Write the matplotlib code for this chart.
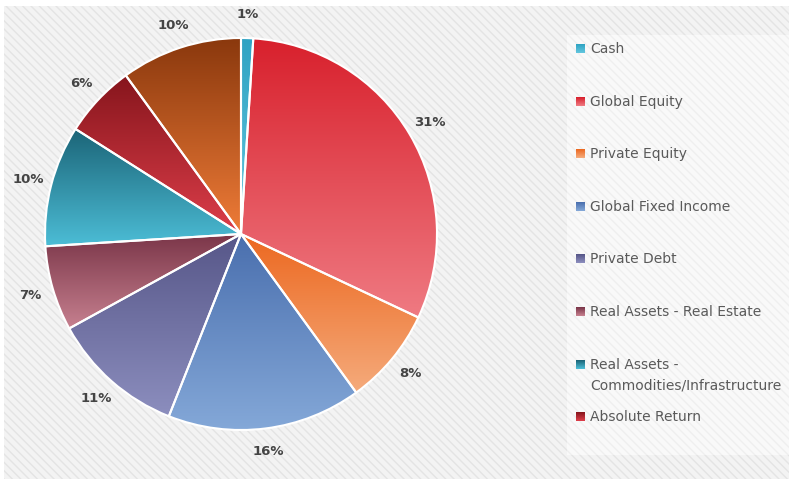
import numpy as np
import matplotlib
matplotlib.use("Agg")
import matplotlib.pyplot as plt
from matplotlib.colors import to_rgb
from matplotlib.patches import Rectangle

# asset allocation (percent)
categories = ["Cash", "Global Equity", "Private Equity", "Global Fixed Income",
              "Private Debt", "Real Assets - Real Estate",
              "Real Assets -\nCommodities/Infrastructure", "Absolute Return", "Other"]
values = [1, 31, 8, 16, 11, 7, 10, 6, 10]
pct_labels = ["1%", "31%", "8%", "16%", "11%", "7%", "10%", "6%", "10%"]
# gradient (top, bottom) for each slice
top_colors = ["#2fa3c3", "#d8202c", "#ec6820", "#4a6fae", "#565688",
              "#7a3548", "#1b6477", "#86151c", "#8a380d"]
bottom_colors = ["#62c6de", "#ef7a82", "#f5ab7c", "#84a8d8", "#8c8ebe",
                 "#c6808f", "#4cbdd6", "#dd3e4a", "#ef7c38"]
legend_count = 8  # last entry doesn't fit in the legend box

W, H = 789, 479
fig = plt.figure(figsize=(W / 100, H / 100), dpi=100)
fig.patch.set_facecolor("white")
ax = fig.add_axes([0, 0, 1, 1])


def gradient(c_top, c_bot, n=256):
    t = np.linspace(0, 1, n)[:, None]
    a = np.array(to_rgb(c_top))
    b = np.array(to_rgb(c_bot))
    return (a * (1 - t) + b * t)[:, None, :]


# striped background
ax.add_patch(Rectangle((4, 0), W - 4, H - 6, facecolor="#f3f3f3",
                       edgecolor="#e4e4e4", hatch="\\\\\\\\", lw=0, zorder=0))

# pie
cx, cy, r = 241, H - 234, 196
wedges, texts = ax.pie(values, labels=pct_labels, startangle=90, counterclock=False,
                       center=(cx, cy), radius=r, labeldistance=1.12,
                       wedgeprops=dict(edgecolor="white", linewidth=1.5),
                       textprops=dict(fontsize=9.5, fontweight="bold", color="#444444"))
for w, ct, cb in zip(wedges, top_colors, bottom_colors):
    path = w.get_patch_transform().transform_path(w.get_path())
    ext = path.get_extents()
    im = ax.imshow(gradient(ct, cb), extent=(ext.x0, ext.x1, ext.y0, ext.y1),
                   origin="upper", aspect="auto", zorder=1, interpolation="bilinear")
    im.set_clip_path(w)
    w.set_facecolor("none")
    w.set_zorder(2)
for t in texts:
    t.set_ha("center")
    t.set_va("center")
    t.set_zorder(3)

# legend box
ax.add_patch(Rectangle((567, H - 455), W - 567 + 5, 420, facecolor="#f9f9f9",
                       edgecolor="#efefef", hatch="\\\\\\\\", lw=0, zorder=1))
step = 52.6
for i in range(legend_count):
    y = H - (47 + i * step)
    im = ax.imshow(gradient(top_colors[i], bottom_colors[i], 16),
                   extent=(576, 585, y - 6, y + 3), origin="upper",
                   aspect="auto", zorder=3)
    ax.text(590, y + 5, categories[i], fontsize=10, color="#5a5a5a",
            ha="left", va="top", linespacing=1.6, zorder=3)

ax.set_xlim(0, W)
ax.set_ylim(0, H)
ax.set_aspect("equal")
ax.axis("off")

fig.savefig("out.png", dpi=100, facecolor="white")
